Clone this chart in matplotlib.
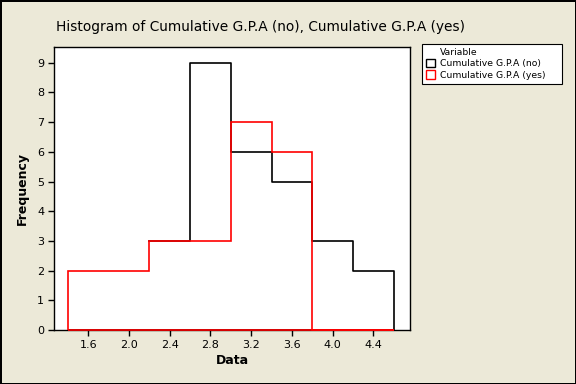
import numpy as np
import matplotlib
matplotlib.use("Agg")
import matplotlib.pyplot as plt
from matplotlib.patches import Patch

# bin edges and counts (bin width 0.4)
edges = [1.4, 1.8, 2.2, 2.6, 3.0, 3.4, 3.8, 4.2, 4.6]
counts_no = [0, 0, 3, 9, 6, 5, 3, 2]
counts_yes = [2, 2, 3, 3, 7, 6, 0, 0]
xticks = [1.6, 2.0, 2.4, 2.8, 3.2, 3.6, 4.0, 4.4]
yticks = list(range(10))
labels = ["Cumulative G.P.A (no)", "Cumulative G.P.A (yes)"]

bg = "#ECE9D8"
fig = plt.figure(figsize=(5.76, 3.84), dpi=100, facecolor=bg,
                 edgecolor="black", linewidth=2)
ax = fig.add_axes([54/576, 1 - 330/384, 356/576, (330 - 46.7)/384])
ax.set_facecolor("white")

# "no" outline: Minitab starts it at the first non-empty bin without a rising edge
first = next(i for i, c in enumerate(counts_no) if c > 0)
ax.step(edges[first:], list(counts_no[first:]) + [0], where="post",
        color="black", lw=1.2, clip_on=False)
ax.hlines(0, edges[0], edges[-1], color="black", lw=1.2, clip_on=False, zorder=3)

# "yes" outline in red on top
ax.stairs(counts_yes, edges, baseline=0, fill=False, color="red", lw=1.2,
          clip_on=False, zorder=4)
ax.hlines(0, edges[0], edges[-1], color="red", lw=1.2, clip_on=False, zorder=4)

ax.set_xlim(1.263, 4.76)
ax.set_ylim(0, 9.54)
ax.set_xticks(xticks)
ax.set_xticklabels([f"{t:.1f}" for t in xticks])
ax.set_yticks(yticks)
ax.tick_params(direction="out", length=4, width=1, labelsize=8, pad=3)
for s in ax.spines.values():
    s.set_linewidth(1)

ax.set_xlabel("Data", fontsize=9, fontweight="bold", labelpad=3)
ax.set_ylabel("Frequency", fontsize=9, fontweight="bold", labelpad=6)
fig.text(260/576, 1 - 27/384, "Histogram of Cumulative G.P.A (no), Cumulative G.P.A (yes)",
         ha="center", va="center", fontsize=9.9)

handles = [Patch(facecolor="white", edgecolor="black", lw=1),
           Patch(facecolor="white", edgecolor="red", lw=1)]
leg = fig.legend(handles, labels, title="Variable", loc="upper left",
                 bbox_to_anchor=(421.7/576, 1 - 83/384, 140/576, 39/384),
                 mode="expand", fontsize=6.7,
                 title_fontsize=6.7, fancybox=False, framealpha=1,
                 edgecolor="black", handlelength=1.0, handleheight=1.0,
                 handletextpad=0.5, borderpad=0.45, labelspacing=0.2,
                 alignment="left", borderaxespad=0)
leg.get_frame().set_linewidth(0.8)
leg.get_title().set_position((14, 0))

fig.savefig("out.png", dpi=100, facecolor=bg, edgecolor="black")
